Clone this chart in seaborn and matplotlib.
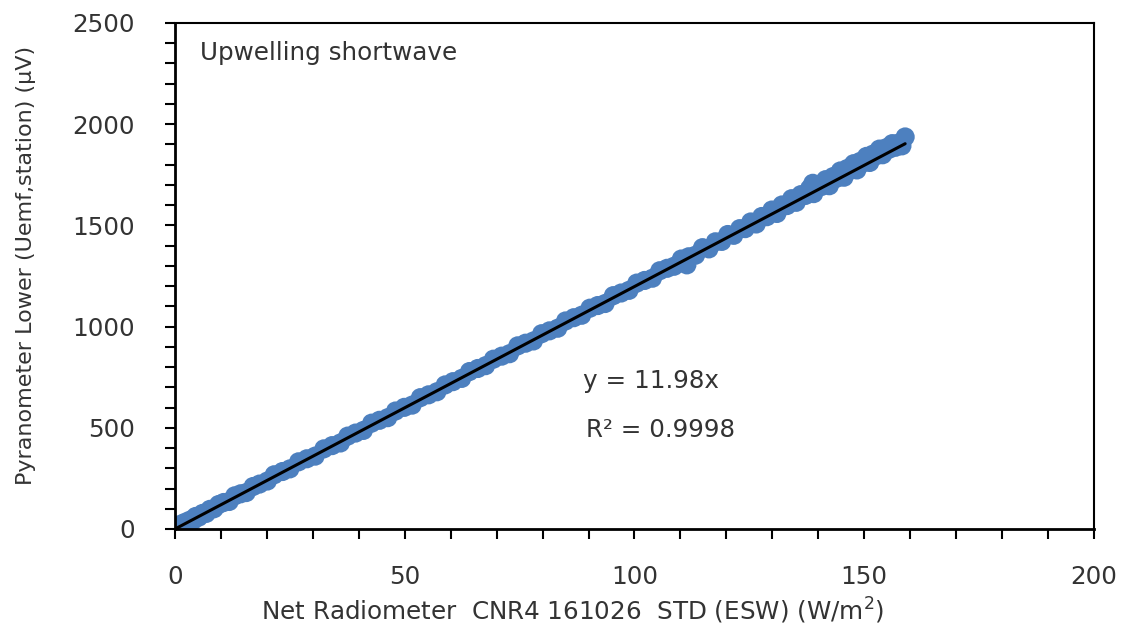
import matplotlib
matplotlib.use("Agg")
import matplotlib.pyplot as plt
from matplotlib.ticker import MultipleLocator
import numpy as np
import pandas as pd
import seaborn as sns

# Net radiometer reading (W/m2) vs. pyranometer lower output (uV)
net_radiometer = [
    0.0, 0.3, 0.6, 1.0, 1.4, 1.8, 2.3, 2.8, 3.3, 3.9, 4.5, 5.2, 6.0, 6.8, 7.6,
    8.5, 9.5, 10.6, 11.8, 13.0, 14.3, 15.5, 17.0, 18.4, 20.1, 21.6, 23.4, 25.0,
    26.9, 28.7, 30.5, 32.4, 34.2, 36.0, 37.6, 39.3, 41.0, 42.8, 44.5, 46.3,
    48.0, 49.9, 51.6, 53.4, 55.2, 57.0, 58.8, 60.5, 62.4, 64.1, 65.9, 67.6,
    69.3, 71.1, 72.8, 74.6, 76.3, 78.0, 79.8, 81.5, 83.3, 85.0, 86.8, 88.5,
    90.3, 92.0, 93.6, 95.4, 97.1, 98.8, 100.5, 102.2, 103.9, 105.5, 107.1,
    108.6, 110.2, 111.4, 111.8, 113.3, 114.8, 116.2, 117.6, 119.0, 120.3,
    121.6, 122.9, 124.1, 125.3, 126.5, 127.7, 128.8, 129.9, 131.0, 132.1,
    133.2, 134.2, 135.2, 136.2, 137.2, 138.1, 138.8, 139.0, 139.9, 140.8,
    141.6, 142.4, 143.2, 144.0, 144.8, 145.6, 146.3, 147.0, 147.7, 148.4,
    149.1, 149.8, 150.5, 151.2, 151.9, 152.6, 153.3, 154.0, 154.7, 155.4,
    156.1, 156.8, 157.5, 158.2, 158.9,
]
pyranometer_lower = [
    5, 1, 17, 14, 25, 18, 34, 29, 44, 41, 62, 59, 77, 77, 97,
    100, 121, 131, 136, 164, 174, 180, 210, 222, 237, 268, 284, 297,
    332, 347, 360, 396, 412, 425, 459, 474, 487, 523, 537, 550,
    583, 601, 612, 649, 663, 678, 712, 728, 744, 778, 793, 807,
    839, 854, 866, 905, 918, 929, 965, 979, 992, 1028, 1044, 1056,
    1091, 1104, 1114, 1153, 1166, 1179, 1215, 1228, 1239, 1276, 1288,
    1298, 1334, 1305, 1345, 1353, 1390, 1384, 1419, 1421, 1455,
    1451, 1484, 1484, 1517, 1507, 1544, 1543, 1576, 1559, 1601,
    1598, 1632, 1614, 1652, 1648, 1682, 1708, 1657, 1698, 1693,
    1726, 1696, 1741, 1733, 1769, 1738, 1781, 1773, 1805, 1774,
    1816, 1809, 1841, 1811, 1852, 1844, 1877, 1849, 1883, 1876,
    1904, 1886, 1907, 1893, 1937,
]

# Trendline through the origin
slope = 11.98
r_squared = 0.9998

x_ticks = [0, 50, 100, 150, 200]
y_ticks = [0, 500, 1000, 1500, 2000, 2500]

df = pd.DataFrame({"x": net_radiometer, "y": pyranometer_lower})
fit = pd.DataFrame({"x": [0.0, max(net_radiometer)]})
fit["y"] = slope * fit["x"]

sns.set_theme(style="white")
plt.rcParams["font.family"] = ["DejaVu Sans"]

text_color = "#333333"
fs = 17.7

fig = plt.figure(figsize=(11.29, 6.25), dpi=100)
ax = fig.add_axes([0.155, 0.1536, 0.814, 0.8096])

sns.scatterplot(data=df, x="x", y="y", ax=ax, s=190, color="#4d80bf",
                edgecolor="none", linewidth=0, zorder=2)
sns.lineplot(data=fit, x="x", y="y", ax=ax, color="black", linewidth=2.2,
             zorder=3)

ax.set_xlim(0, 200)
ax.set_ylim(0, 2500)
ax.set_xticks(x_ticks)
ax.set_yticks(y_ticks)
ax.xaxis.set_minor_locator(MultipleLocator(10))
ax.yaxis.set_minor_locator(MultipleLocator(100))
ax.tick_params(axis="both", which="both", direction="out", length=7,
               width=1.5, color="black", labelsize=fs, labelcolor=text_color,
               bottom=True, left=True, top=False, right=False)
ax.tick_params(axis="x", which="major", pad=19)
ax.tick_params(axis="y", which="major", pad=22)

for side in ["left", "bottom", "right", "top"]:
    ax.spines[side].set_visible(True)
    ax.spines[side].set_color("black")
ax.spines["left"].set_linewidth(2)
ax.spines["bottom"].set_linewidth(2)
ax.spines["right"].set_linewidth(1.5)
ax.spines["top"].set_linewidth(1.5)

ax.set_xlabel("Net Radiometer  CNR4 161026  STD (ESW) (W/m$^2$)",
              fontsize=fs, color=text_color)
ax.set_ylabel("Pyranometer Lower (Uemf,station) (\u03bcV)",
              fontsize=16.0, color=text_color)
ax.xaxis.set_label_coords(0.433, -0.132)
ax.yaxis.set_label_coords(-0.151, 0.52)

ax.text(0.027, 0.94, "Upwelling shortwave", transform=ax.transAxes,
        fontsize=fs, color=text_color, ha="left", va="center")
ax.text(0.518, 0.293, f"y = {slope}x", transform=ax.transAxes,
        fontsize=fs, color=text_color, ha="center", va="center")
ax.text(0.528, 0.195, f"R\u00b2 = {r_squared}", transform=ax.transAxes,
        fontsize=fs, color=text_color, ha="center", va="center")

fig.savefig("out.png", dpi=100, facecolor="white")
